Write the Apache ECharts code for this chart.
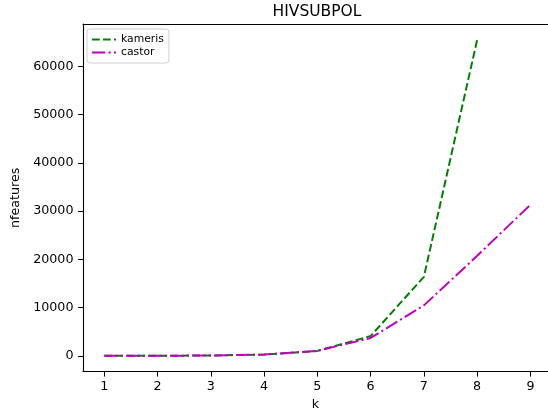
<!DOCTYPE html>
<html>
<head>
<meta charset="utf-8">
<script src="https://cdn.jsdelivr.net/npm/echarts@6/dist/echarts.min.js"></script>
<style>
  html, body { margin: 0; padding: 0; background: #fff; }
  #chart { width: 548px; height: 416px; }
</style>
</head>
<body>
<div id="chart"></div>
<script>
// k values and feature counts
var ks = [1, 2, 3, 4, 5, 6, 7, 8, 9];
var kameris = [4, 16, 64, 256, 1024, 4096, 16384, 65536];
var castor = [4, 16, 64, 256, 1024, 3700, 10460, 20740, 31330];
var yTicks = [0, 10000, 20000, 30000, 40000, 50000, 60000];

function pairs(vals) {
    var out = [];
    for (var i = 0; i < vals.length; i++) {
        out.push([ks[i], vals[i]]);
    }
    return out;
}

var font = 'DejaVu Sans';
var chart = echarts.init(document.getElementById('chart'));

var option = {
    animation: false,
    graphic: [{
        type: 'text',
        x: 317, y: 12,
        style: {
            text: 'HIVSUBPOL',
            font: '15.5px "DejaVu Sans"',
            fill: '#000',
            textAlign: 'center',
            textVerticalAlign: 'middle'
        }
    }],
    legend: {
        orient: 'vertical',
        left: 87, top: 29,
        padding: [5, 5, 5, 4],
        itemGap: 2,
        itemWidth: 24,
        itemHeight: 12,
        itemStyle: { opacity: 0 },
        backgroundColor: 'rgba(255,255,255,0.8)',
        borderColor: '#d0d0d0',
        borderWidth: 1,
        borderRadius: 3,
        textStyle: { fontFamily: font, fontSize: 10.8, color: '#000' },
        data: ['kameris', 'castor']
    },
    // plot runs past the right edge of the picture, so no right spine
    grid: {
        left: 83, top: 24, right: 0, bottom: 42
    },
    xAxis: [{
        type: 'value',
        min: 0.6, max: 9.33,
        name: 'k',
        nameLocation: 'middle',
        nameGap: 26,
        nameTextStyle: { fontFamily: font, fontSize: 12.7, color: '#000' },
        axisLine: { show: true, onZero: false, lineStyle: { color: '#000', width: 1.1 } },
        axisTick: { show: true, length: 5, customValues: ks, lineStyle: { color: '#000' } },
        axisLabel: { customValues: ks, margin: 8.5, fontFamily: font, fontSize: 12.7, color: '#000' },
        splitLine: { show: false }
    }, {
        type: 'value',
        position: 'top',
        min: 0.6, max: 9.33,
        axisLine: { show: true, onZero: false, lineStyle: { color: '#000', width: 1.1 } },
        axisTick: { show: false },
        axisLabel: { show: false },
        splitLine: { show: false }
    }],
    yAxis: {
        type: 'value',
        min: -3273, max: 68813,
        name: 'nfeatures',
        nameLocation: 'middle',
        nameGap: 46,
        nameTextStyle: { fontFamily: font, fontSize: 12.7, color: '#000' },
        axisLine: { show: true, onZero: false, lineStyle: { color: '#000', width: 1.1 } },
        axisTick: { show: true, length: 5, customValues: yTicks, lineStyle: { color: '#000' } },
        axisLabel: {
            customValues: yTicks, margin: 9.5, fontFamily: font, fontSize: 12.7, color: '#000',
            formatter: function (v) { return String(v); }
        },
        splitLine: { show: false }
    },
    series: [{
        name: 'kameris',
        type: 'line',
        data: pairs(kameris),
        symbol: 'none',
        color: '#008000',
        lineStyle: { width: 2, type: [7.7, 3.3], color: '#008000' }
    }, {
        name: 'castor',
        type: 'line',
        data: pairs(castor),
        symbol: 'none',
        color: '#bf00bf',
        lineStyle: { width: 2, type: [13.3, 3.3, 2.1, 3.3], color: '#bf00bf' }
    }]
};

chart.setOption(option);
</script>
</body>
</html>
